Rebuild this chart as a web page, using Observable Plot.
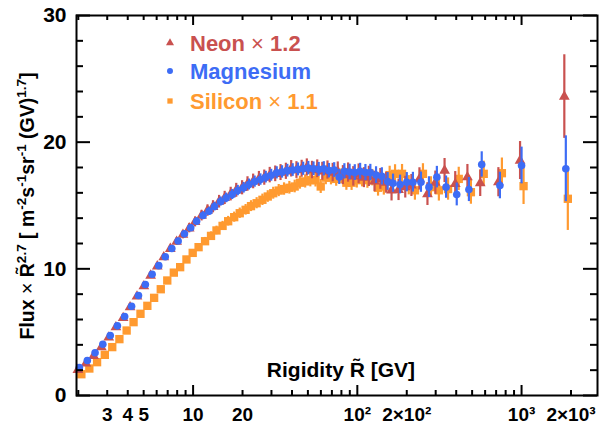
<!DOCTYPE html>
<html><head><meta charset="utf-8">
<script src="https://cdn.jsdelivr.net/npm/d3@7"></script>
<script src="https://cdn.jsdelivr.net/npm/@observablehq/plot@0.6"></script>
<style>body{margin:0;background:#fff} svg{display:block}</style>
</head><body><div id="chart"></div>
<script>
const rigidity = [2.03, 2.27, 2.53, 2.82, 3.13, 3.46, 3.83, 4.22, 4.65, 5.12,
  5.63, 6.18, 6.77, 7.42, 8.11, 8.86, 9.67, 10.5, 11.5, 12.5,
  13.5, 14.7, 15.9, 17.3, 18.7, 20.3, 21.9, 23.7, 25.7, 27.7,
  29.9, 32.3, 34.8, 37.5, 40.4, 43.5, 46.8, 50.3, 54.1, 58.2,
  62.5, 67.2, 72.3, 77.6, 83.4, 89.7, 96.5, 104, 112, 120,
  130, 141, 153, 165, 182, 200, 218, 244, 273, 305,
  347, 403, 478, 572, 738, 1000, 1860];

const magnesium = [2.21, 2.76, 3.37, 4.05, 4.74, 5.50, 6.24, 7.05, 7.89, 8.76,
  9.57, 10.25, 10.95, 11.6, 12.2, 12.76, 13.24, 13.76, 14.21, 14.55,
  14.92, 15.32, 15.6, 15.87, 16.18, 16.4, 16.66, 16.89, 17.05, 17.24,
  17.39, 17.58, 17.65, 17.75, 17.8, 17.85, 17.9, 17.95, 17.9, 17.85,
  17.9, 17.75, 17.8, 17.25, 17.7, 17.65, 17.6, 17.7, 17.6, 17.6,
  17.4, 17.3, 16.9, 16.76, 16.66, 16.84, 16.84, 16.84, 16.45, 17.24,
  16.45, 15.87, 16.26, 18.24, 16.58, 18.16, 17.9];
const magnesiumErr = [0.08, 0.08, 0.08, 0.08, 0.09, 0.1, 0.1, 0.11, 0.12, 0.13,
  0.14, 0.16, 0.18, 0.2, 0.22, 0.24, 0.26, 0.28, 0.3, 0.32,
  0.34, 0.36, 0.38, 0.4, 0.41, 0.42, 0.43, 0.44, 0.45, 0.46,
  0.47, 0.48, 0.49, 0.5, 0.5, 0.51, 0.52, 0.53, 0.54, 0.55,
  0.56, 0.57, 0.58, 0.59, 0.6, 0.61, 0.62, 0.63, 0.64, 0.65,
  0.66, 0.68, 0.7, 0.72, 0.74, 0.76, 0.78, 0.8, 0.82, 0.85,
  0.88, 0.9, 0.95, 1.0, 1.05, 1.45, 2.6];

const neon = [2.03, 2.53, 3.13, 3.82, 4.58, 5.39, 6.13, 6.97, 7.82, 8.63,
  9.47, 10.2, 10.92, 11.58, 12.15, 12.7, 13.2, 13.7, 14.2, 14.6,
  14.9, 15.3, 15.6, 15.9, 16.2, 16.4, 16.7, 16.9, 17.1, 17.2,
  17.4, 17.5, 17.6, 17.7, 17.9, 17.8, 17.9, 18.0, 17.8, 17.9,
  17.7, 17.8, 17.6, 17.7, 17.4, 17.6, 17.3, 17.5, 17.2, 17.3,
  16.9, 17.1, 16.8, 16.2, 16.24, 16.45, 16.58, 17.1, 15.9, 16.8,
  17.76, 16.7, 17.24, 16.76, 16.84, 18.55, 23.6];
const neonErr = [0.1, 0.1, 0.1, 0.11, 0.12, 0.13, 0.14, 0.15, 0.16, 0.18,
  0.2, 0.22, 0.24, 0.27, 0.3, 0.33, 0.36, 0.39, 0.42, 0.45,
  0.48, 0.5, 0.52, 0.54, 0.55, 0.56, 0.57, 0.58, 0.59, 0.6,
  0.61, 0.62, 0.63, 0.64, 0.65, 0.66, 0.67, 0.68, 0.69, 0.7,
  0.71, 0.72, 0.73, 0.74, 0.75, 0.76, 0.77, 0.78, 0.79, 0.8,
  0.81, 0.82, 0.83, 0.84, 0.85, 0.86, 0.87, 0.88, 0.9, 0.92,
  0.95, 0.98, 1.0, 1.05, 1.15, 1.5, 3.3];

const silicon = [1.68, 2.13, 2.63, 3.21, 3.82, 4.45, 5.13, 5.79, 6.45, 7.08,
  7.71, 8.39, 9.08, 9.7, 10.13, 10.74, 11.26, 11.71, 12.18, 12.6,
  13.03, 13.39, 13.76, 14.08, 14.39, 14.66, 14.95, 15.18, 15.45, 15.71,
  15.97, 16.18, 16.3, 16.4, 16.5, 16.8, 16.9, 17.0, 17.0, 16.5,
  17.2, 17.2, 17.1, 17.3, 16.8, 16.8, 17.0, 17.1, 17.0, 17.2,
  16.4, 16.5, 17.4, 17.5, 17.5, 16.6, 16.2, 17.5, 16.45, 16.2,
  16.3, 17.1, 16.05, 17.5, 17.55, 16.53, 15.53];
const siliconErr = [0.08, 0.08, 0.08, 0.08, 0.09, 0.1, 0.1, 0.11, 0.12, 0.13,
  0.14, 0.16, 0.18, 0.2, 0.22, 0.24, 0.26, 0.28, 0.3, 0.32,
  0.34, 0.36, 0.38, 0.4, 0.41, 0.42, 0.43, 0.44, 0.45, 0.46,
  0.47, 0.48, 0.49, 0.5, 0.5, 0.51, 0.52, 0.53, 0.54, 0.55,
  0.56, 0.57, 0.58, 0.59, 0.6, 0.61, 0.62, 0.63, 0.64, 0.65,
  0.66, 0.68, 0.7, 0.72, 0.74, 0.76, 0.78, 0.8, 0.82, 0.85,
  0.88, 0.92, 0.95, 1.0, 1.2, 1.45, 2.5];

const xTickValues = [3, 4, 5, 10, 20, 100, 200, 1000, 2000];
const xTickLabels = ["3", "4", "5", "10", "20", "10²", "2×10²", "10³", "2×10³"];
const xMajorTicks = [10, 100, 1000];
const xMinorTicks = [2, 3, 4, 5, 6, 7, 8, 9, 20, 30, 40, 50, 60, 70, 80, 90, 200, 300, 400, 500, 600, 700, 800, 900, 2000];
const yTickValues = [0, 10, 20, 30];
const yMinorTicks = [2, 4, 6, 8, 12, 14, 16, 18, 22, 24, 26, 28];

const FONT = "Liberation Sans, Arial, Helvetica, sans-serif";
const series = [
  {name: "Silicon", values: silicon, err: siliconErr, color: "#ff9a30", symbol: "square", r: 4.7, dx: 2},
  {name: "Neon", values: neon, err: neonErr, color: "#c9514f", symbol: "triangle", r: 4.0, dx: -1.5},
  {name: "Magnesium", values: magnesium, err: magnesiumErr, color: "#3d6cf5", symbol: "circle", r: 3.8, dx: 0}
];

const W = 600, H = 430, mL = 76, mR = 3, mT = 15, mB = 35;
const iw = W - mL - mR, ih = H - mT - mB;

const marks = [];
for (const s of series) {
  const rows = rigidity.map((r, i) => ({r, v: s.values[i], e: s.err[i]}));
  marks.push(Plot.ruleX(rows, {x: "r", y1: d => d.v - d.e, y2: d => d.v + d.e, stroke: s.color, strokeWidth: 2.2, dx: s.dx}));
  marks.push(Plot.dot(rows, {x: "r", y: "v", symbol: s.symbol, fill: s.color, stroke: "none", r: s.r, dx: s.dx}));
}
// ticks (inward)
marks.push(Plot.tickX(xMajorTicks, {x: d => d, insetTop: ih - 10, stroke: "black", strokeWidth: 2}));
marks.push(Plot.tickX(xMajorTicks, {x: d => d, insetBottom: ih - 10, stroke: "black", strokeWidth: 2}));
marks.push(Plot.tickX(xMinorTicks, {x: d => d, insetTop: ih - 5, stroke: "black", strokeWidth: 2}));
marks.push(Plot.tickX(xMinorTicks, {x: d => d, insetBottom: ih - 5, stroke: "black", strokeWidth: 2}));
marks.push(Plot.tickY(yTickValues, {y: d => d, insetRight: iw - 14, stroke: "black", strokeWidth: 2}));
marks.push(Plot.tickY(yTickValues, {y: d => d, insetLeft: iw - 14, stroke: "black", strokeWidth: 2}));
marks.push(Plot.tickY(yMinorTicks, {y: d => d, insetRight: iw - 7, stroke: "black", strokeWidth: 2}));
marks.push(Plot.tickY(yMinorTicks, {y: d => d, insetLeft: iw - 7, stroke: "black", strokeWidth: 2}));
marks.push(Plot.frame({stroke: "black", strokeWidth: 2}));
// tick labels
marks.push(Plot.text(xTickValues, {x: d => d, frameAnchor: "bottom", dy: 25, text: (d, i) => xTickLabels[i],
  fontSize: 19, fontWeight: "bold", fontFamily: FONT, fill: "black"}));
marks.push(Plot.text(yTickValues, {y: d => d, frameAnchor: "left", dx: -10, textAnchor: "end", text: d => String(d),
  fontSize: 21, fontWeight: "bold", fontFamily: FONT, fill: "black"}));

const plot = Plot.plot({
  width: W, height: H,
  marginLeft: mL, marginRight: mR, marginTop: mT, marginBottom: mB,
  x: {type: "log", domain: [1.95, 2900], axis: null},
  y: {domain: [0, 30], axis: null},
  style: {fontFamily: FONT, background: "white", overflow: "visible"},
  marks
});

const svg = d3.select(plot);
// x-axis title (inside frame)
svg.append("text").attr("x", 415).attr("y", 377).attr("text-anchor", "end")
  .attr("font-family", FONT).attr("font-size", 21).attr("font-weight", "bold").attr("fill", "black")
  .text("Rigidity R\u0303 [GV]");

// y-axis title with superscripts
const yt = svg.append("text").attr("transform", "translate(34,206) rotate(-90)").attr("text-anchor", "middle")
  .attr("font-family", FONT).attr("font-size", 19.5).attr("font-weight", "bold").attr("fill", "black");
const parts = [
  ["Flux ", 0], ["×", 0, "normal"], [" R\u0303", 0], ["2.7", 1], [" [ m", 0], ["-2", 1], ["s", 0], ["-1", 1],
  ["sr", 0], ["-1", 1], [" (GV)", 0], ["1.7", 1], ["]", 0]
];
let raised = false;
for (const [txt, sup, weight] of parts) {
  const ts = yt.append("tspan").text(txt);
  if (weight) ts.attr("font-weight", weight);
  if (sup) {
    ts.attr("font-size", 13.5);
    if (!raised) { ts.attr("dy", -8); raised = true; }
  } else if (raised) { ts.attr("dy", 8); raised = false; }
}

// legend
const legend = [
  {label: "Neon", factor: "1.2", color: "#c9514f", symbol: d3.symbolTriangle, y: 43},
  {label: "Magnesium", factor: null, color: "#3d6cf5", symbol: d3.symbolCircle, y: 71},
  {label: "Silicon", factor: "1.1", color: "#ff9a30", symbol: d3.symbolSquare, y: 101}
];
for (const l of legend) {
  svg.append("path").attr("d", d3.symbol(l.symbol, 28)()).attr("transform", `translate(170,${l.y})`).attr("fill", l.color);
  const t = svg.append("text").attr("x", 190).attr("y", l.y + 8).attr("text-anchor", "start")
    .attr("font-family", FONT).attr("font-size", 22)
    .attr("font-weight", "bold").attr("fill", l.color);
  t.append("tspan").text(l.label);
  if (l.factor) {
    t.append("tspan").attr("font-weight", "normal").text(" × ");
    t.append("tspan").text(l.factor);
  }
}

document.getElementById("chart").appendChild(plot);
</script>
</body></html>
